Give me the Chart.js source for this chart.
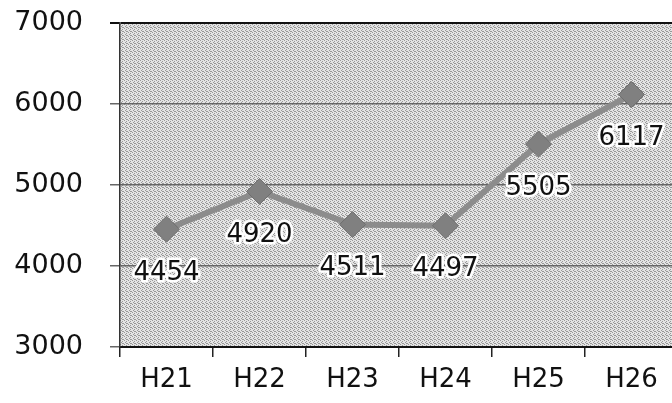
<!DOCTYPE html>
<html>
<head>
<meta charset="utf-8">
<script src="https://cdn.jsdelivr.net/npm/chart.js@4"></script>
<style>
  html, body { margin: 0; padding: 0; background: #fff; overflow: hidden; }
  #wrap { width: 692px; height: 403px; }
</style>
</head>
<body>
<div id="wrap"><canvas id="chart" width="692" height="403"></canvas></div>
<script>
// data
const years = ["H21", "H22", "H23", "H24", "H25", "H26"];
const counts = [4454, 4920, 4511, 4497, 5505, 6117];
const yTicks = [3000, 4000, 5000, 6000, 7000];

const FONT = "'DejaVu Sans', Verdana, sans-serif";

// -----------------------------
// Helper: dotted grey fill like the scanned plot area
// -----------------------------
function makePattern() {
  const c = document.createElement("canvas");
  c.width = 4; c.height = 4;
  const g = c.getContext("2d");
  g.fillStyle = "#e4e4e4";
  g.fillRect(0, 0, 4, 4);
  g.fillStyle = "#989898";
  [[0, 0], [2, 1], [1, 2], [3, 3], [2, 3]].forEach(([x, y]) => g.fillRect(x, y, 1, 1));
  return g.createPattern(c, "repeat");
}

const plotBackground = {
  id: "plotBackground",
  beforeDraw(chart) {
    const { ctx, chartArea: a } = chart;
    ctx.save();
    ctx.fillStyle = makePattern();
    ctx.fillRect(a.left, a.top, a.right - a.left, a.bottom - a.top);
    ctx.restore();
  }
};

// -----------------------------
// Value labels below each point
// -----------------------------
const valueLabels = {
  id: "valueLabels",
  afterDatasetsDraw(chart) {
    const { ctx } = chart;
    const meta = chart.getDatasetMeta(0);
    ctx.save();
    ctx.font = "26px " + FONT;
    ctx.textAlign = "center";
    ctx.textBaseline = "middle";
    ctx.lineJoin = "round";
    meta.data.forEach((pt, i) => {
      const txt = String(counts[i]);
      const y = pt.y + 44;
      ctx.strokeStyle = "#ffffff";
      ctx.lineWidth = 5;
      ctx.strokeText(txt, pt.x, y);
      ctx.fillStyle = "#111";
      ctx.fillText(txt, pt.x, y);
    });
    ctx.restore();
  }
};

new Chart(document.getElementById("chart"), {
  type: "line",
  data: {
    labels: years,
    datasets: [{
      data: counts,
      borderColor: "#8c8c8c",
      borderWidth: 6,
      pointStyle: "rectRot",
      pointRadius: 13,
      pointBackgroundColor: "#808080",
      pointBorderColor: "#6e6e6e",
      pointBorderWidth: 1,
      tension: 0
    }]
  },
  options: {
    responsive: false,
    animation: false,
    layout: { padding: { top: 23, right: 0, left: 0, bottom: 0 } },
    plugins: { legend: { display: false }, tooltip: { enabled: false } },
    scales: {
      x: {
        offset: true,
        afterFit(s) { s.height = 56; s.paddingLeft = 0; s.paddingRight = 0; },
        grid: { offset: true, drawOnChartArea: false, drawTicks: true, tickLength: 10, color: "#222", lineWidth: 1.5 },
        border: { color: "#111", width: 2 },
        ticks: { color: "#111", font: { family: FONT, size: 26 }, padding: 8 }
      },
      y: {
        min: 3000,
        max: 7000,
        afterFit(s) { s.width = 120; s.paddingTop = 0; s.paddingBottom = 0; },
        afterBuildTicks(s) { s.ticks = yTicks.map(v => ({ value: v })); },
        grid: {
          color: ctx => (ctx.tick && ctx.tick.value === 7000 ? "#111" : "#666"),
          lineWidth: ctx => (ctx.tick && ctx.tick.value === 7000 ? 2 : 1.5),
          tickLength: 10
        },
        border: { color: "#333", width: 1.5 },
        ticks: {
          color: "#111",
          font: { family: FONT, size: 27 },
          padding: 27,
          callback: v => String(v)
        }
      }
    }
  },
  plugins: [plotBackground, valueLabels]
});
</script>
</body>
</html>
